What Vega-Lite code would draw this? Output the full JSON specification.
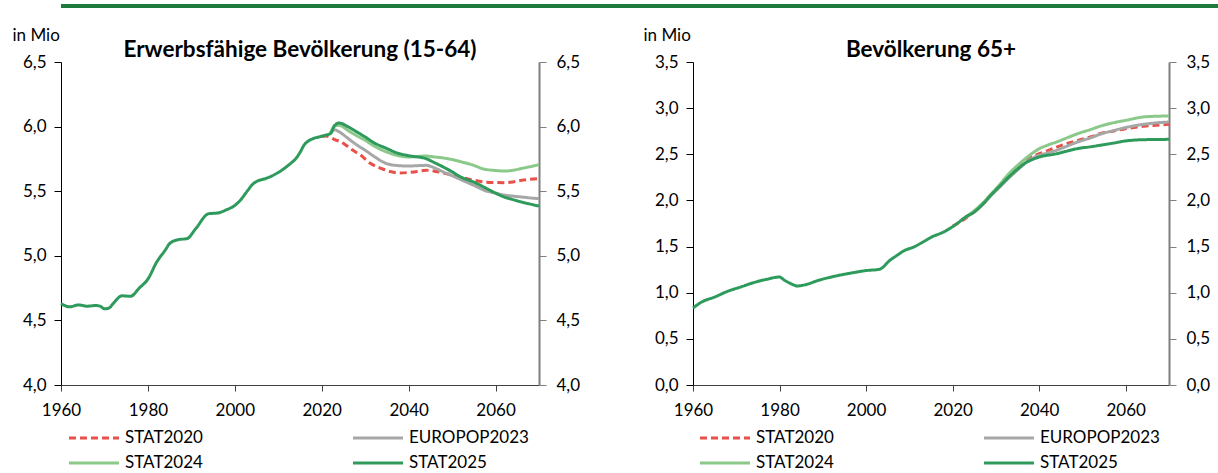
{
"$schema": "https://vega.github.io/schema/vega-lite/v6.json",
"padding": {"left": 12, "top": 3, "right": 0, "bottom": 0},
"config": {
 "font": "Lato",
 "view": {"stroke": null},
 "axis": {"labelFontSize": 17, "labelColor": "#000", "titleFontSize": 17, "titleFontWeight": "normal", "titleColor": "#000", "grid": false, "tickColor": "#404040", "domainColor": "#404040", "labelFont": "Lato", "titleFont": "Lato", "labelFlush": false},
 "legend": {"symbolType": "M-2,0L2,0", "symbolSize": 625, "symbolStrokeWidth": 3, "labelFontSize": 17, "labelFont": "Lato", "labelColor": "#000", "labelOffset": 17, "columnPadding": 144, "rowPadding": 3},
 "title": {"fontSize": 22.5, "fontWeight": "bold", "color": "#000", "font": "Lato"}
},
"datasets": {
 "erw": [
  {"series": "STAT2020", "year": 2020, "value": 5.925},
  {"series": "STAT2020", "year": 2021, "value": 5.927},
  {"series": "STAT2020", "year": 2023, "value": 5.9},
  {"series": "STAT2020", "year": 2025, "value": 5.87},
  {"series": "STAT2020", "year": 2027, "value": 5.82},
  {"series": "STAT2020", "year": 2029, "value": 5.778},
  {"series": "STAT2020", "year": 2031, "value": 5.72},
  {"series": "STAT2020", "year": 2034, "value": 5.672},
  {"series": "STAT2020", "year": 2036, "value": 5.65},
  {"series": "STAT2020", "year": 2038, "value": 5.641},
  {"series": "STAT2020", "year": 2040, "value": 5.645},
  {"series": "STAT2020", "year": 2042, "value": 5.652},
  {"series": "STAT2020", "year": 2044, "value": 5.662},
  {"series": "STAT2020", "year": 2046, "value": 5.655},
  {"series": "STAT2020", "year": 2048, "value": 5.641},
  {"series": "STAT2020", "year": 2050, "value": 5.625},
  {"series": "STAT2020", "year": 2052, "value": 5.607},
  {"series": "STAT2020", "year": 2055, "value": 5.585},
  {"series": "STAT2020", "year": 2058, "value": 5.57},
  {"series": "STAT2020", "year": 2060, "value": 5.567},
  {"series": "STAT2020", "year": 2062, "value": 5.566},
  {"series": "STAT2020", "year": 2064, "value": 5.572},
  {"series": "STAT2020", "year": 2066, "value": 5.584},
  {"series": "STAT2020", "year": 2068, "value": 5.592},
  {"series": "STAT2020", "year": 2070, "value": 5.597},
  {"series": "EUROPOP2023", "year": 2022, "value": 5.95},
  {"series": "EUROPOP2023", "year": 2023, "value": 5.975},
  {"series": "EUROPOP2023", "year": 2024, "value": 5.96},
  {"series": "EUROPOP2023", "year": 2026, "value": 5.91},
  {"series": "EUROPOP2023", "year": 2028, "value": 5.86},
  {"series": "EUROPOP2023", "year": 2030, "value": 5.817},
  {"series": "EUROPOP2023", "year": 2032, "value": 5.77},
  {"series": "EUROPOP2023", "year": 2035, "value": 5.713},
  {"series": "EUROPOP2023", "year": 2037, "value": 5.7},
  {"series": "EUROPOP2023", "year": 2040, "value": 5.695},
  {"series": "EUROPOP2023", "year": 2044, "value": 5.7},
  {"series": "EUROPOP2023", "year": 2046, "value": 5.68},
  {"series": "EUROPOP2023", "year": 2048, "value": 5.649},
  {"series": "EUROPOP2023", "year": 2050, "value": 5.62},
  {"series": "EUROPOP2023", "year": 2052, "value": 5.59},
  {"series": "EUROPOP2023", "year": 2055, "value": 5.545},
  {"series": "EUROPOP2023", "year": 2058, "value": 5.5},
  {"series": "EUROPOP2023", "year": 2060, "value": 5.485},
  {"series": "EUROPOP2023", "year": 2062, "value": 5.47},
  {"series": "EUROPOP2023", "year": 2064, "value": 5.462},
  {"series": "EUROPOP2023", "year": 2066, "value": 5.455},
  {"series": "EUROPOP2023", "year": 2068, "value": 5.448},
  {"series": "EUROPOP2023", "year": 2070, "value": 5.442},
  {"series": "STAT2024", "year": 2022, "value": 5.95},
  {"series": "STAT2024", "year": 2023, "value": 6.005},
  {"series": "STAT2024", "year": 2024, "value": 6.01},
  {"series": "STAT2024", "year": 2026, "value": 5.971},
  {"series": "STAT2024", "year": 2028, "value": 5.93},
  {"series": "STAT2024", "year": 2030, "value": 5.894},
  {"series": "STAT2024", "year": 2032, "value": 5.85},
  {"series": "STAT2024", "year": 2035, "value": 5.803},
  {"series": "STAT2024", "year": 2037, "value": 5.78},
  {"series": "STAT2024", "year": 2040, "value": 5.765},
  {"series": "STAT2024", "year": 2044, "value": 5.772},
  {"series": "STAT2024", "year": 2046, "value": 5.765},
  {"series": "STAT2024", "year": 2048, "value": 5.757},
  {"series": "STAT2024", "year": 2050, "value": 5.745},
  {"series": "STAT2024", "year": 2052, "value": 5.728},
  {"series": "STAT2024", "year": 2055, "value": 5.7},
  {"series": "STAT2024", "year": 2057, "value": 5.674},
  {"series": "STAT2024", "year": 2060, "value": 5.66},
  {"series": "STAT2024", "year": 2062, "value": 5.656},
  {"series": "STAT2024", "year": 2064, "value": 5.662},
  {"series": "STAT2024", "year": 2066, "value": 5.676},
  {"series": "STAT2024", "year": 2068, "value": 5.69},
  {"series": "STAT2024", "year": 2070, "value": 5.705},
  {"series": "STAT2025", "year": 1960, "value": 4.63},
  {"series": "STAT2025", "year": 1962, "value": 4.605},
  {"series": "STAT2025", "year": 1964, "value": 4.62},
  {"series": "STAT2025", "year": 1966, "value": 4.61},
  {"series": "STAT2025", "year": 1968, "value": 4.615},
  {"series": "STAT2025", "year": 1969, "value": 4.61},
  {"series": "STAT2025", "year": 1970, "value": 4.59},
  {"series": "STAT2025", "year": 1971, "value": 4.595},
  {"series": "STAT2025", "year": 1972, "value": 4.63},
  {"series": "STAT2025", "year": 1974, "value": 4.69},
  {"series": "STAT2025", "year": 1976, "value": 4.687},
  {"series": "STAT2025", "year": 1978, "value": 4.75},
  {"series": "STAT2025", "year": 1980, "value": 4.82},
  {"series": "STAT2025", "year": 1982, "value": 4.95},
  {"series": "STAT2025", "year": 1984, "value": 5.045},
  {"series": "STAT2025", "year": 1985, "value": 5.095},
  {"series": "STAT2025", "year": 1987, "value": 5.125},
  {"series": "STAT2025", "year": 1989, "value": 5.133},
  {"series": "STAT2025", "year": 1991, "value": 5.21},
  {"series": "STAT2025", "year": 1994, "value": 5.326},
  {"series": "STAT2025", "year": 1996, "value": 5.331},
  {"series": "STAT2025", "year": 1998, "value": 5.355},
  {"series": "STAT2025", "year": 2000, "value": 5.39},
  {"series": "STAT2025", "year": 2001, "value": 5.42},
  {"series": "STAT2025", "year": 2003, "value": 5.507},
  {"series": "STAT2025", "year": 2004, "value": 5.55},
  {"series": "STAT2025", "year": 2005, "value": 5.575},
  {"series": "STAT2025", "year": 2007, "value": 5.597},
  {"series": "STAT2025", "year": 2008, "value": 5.61},
  {"series": "STAT2025", "year": 2010, "value": 5.645},
  {"series": "STAT2025", "year": 2013, "value": 5.72},
  {"series": "STAT2025", "year": 2014, "value": 5.75},
  {"series": "STAT2025", "year": 2015, "value": 5.8},
  {"series": "STAT2025", "year": 2016, "value": 5.86},
  {"series": "STAT2025", "year": 2017, "value": 5.89},
  {"series": "STAT2025", "year": 2018, "value": 5.907},
  {"series": "STAT2025", "year": 2020, "value": 5.925},
  {"series": "STAT2025", "year": 2021, "value": 5.935},
  {"series": "STAT2025", "year": 2022, "value": 5.945},
  {"series": "STAT2025", "year": 2023, "value": 6.01},
  {"series": "STAT2025", "year": 2024, "value": 6.028},
  {"series": "STAT2025", "year": 2026, "value": 6.0},
  {"series": "STAT2025", "year": 2028, "value": 5.96},
  {"series": "STAT2025", "year": 2030, "value": 5.92},
  {"series": "STAT2025", "year": 2032, "value": 5.875},
  {"series": "STAT2025", "year": 2035, "value": 5.83},
  {"series": "STAT2025", "year": 2037, "value": 5.8},
  {"series": "STAT2025", "year": 2040, "value": 5.775},
  {"series": "STAT2025", "year": 2044, "value": 5.752},
  {"series": "STAT2025", "year": 2046, "value": 5.72},
  {"series": "STAT2025", "year": 2048, "value": 5.687},
  {"series": "STAT2025", "year": 2050, "value": 5.65},
  {"series": "STAT2025", "year": 2052, "value": 5.61},
  {"series": "STAT2025", "year": 2055, "value": 5.57},
  {"series": "STAT2025", "year": 2058, "value": 5.52},
  {"series": "STAT2025", "year": 2060, "value": 5.485},
  {"series": "STAT2025", "year": 2062, "value": 5.455},
  {"series": "STAT2025", "year": 2064, "value": 5.435},
  {"series": "STAT2025", "year": 2066, "value": 5.416},
  {"series": "STAT2025", "year": 2068, "value": 5.4},
  {"series": "STAT2025", "year": 2070, "value": 5.385}
 ],
 "alt": [
  {"series": "STAT2020", "year": 2020, "value": 1.72},
  {"series": "STAT2020", "year": 2022, "value": 1.775},
  {"series": "STAT2020", "year": 2025, "value": 1.88},
  {"series": "STAT2020", "year": 2027, "value": 1.965},
  {"series": "STAT2020", "year": 2029, "value": 2.065},
  {"series": "STAT2020", "year": 2031, "value": 2.16},
  {"series": "STAT2020", "year": 2033, "value": 2.25},
  {"series": "STAT2020", "year": 2035, "value": 2.34},
  {"series": "STAT2020", "year": 2037, "value": 2.434},
  {"series": "STAT2020", "year": 2040, "value": 2.506},
  {"series": "STAT2020", "year": 2042, "value": 2.54},
  {"series": "STAT2020", "year": 2044, "value": 2.578},
  {"series": "STAT2020", "year": 2046, "value": 2.61},
  {"series": "STAT2020", "year": 2049, "value": 2.651},
  {"series": "STAT2020", "year": 2052, "value": 2.69},
  {"series": "STAT2020", "year": 2054, "value": 2.723},
  {"series": "STAT2020", "year": 2057, "value": 2.75},
  {"series": "STAT2020", "year": 2060, "value": 2.777},
  {"series": "STAT2020", "year": 2064, "value": 2.803},
  {"series": "STAT2020", "year": 2067, "value": 2.815},
  {"series": "STAT2020", "year": 2070, "value": 2.825},
  {"series": "EUROPOP2023", "year": 2022, "value": 1.79},
  {"series": "EUROPOP2023", "year": 2025, "value": 1.88},
  {"series": "EUROPOP2023", "year": 2027, "value": 1.96},
  {"series": "EUROPOP2023", "year": 2029, "value": 2.06},
  {"series": "EUROPOP2023", "year": 2031, "value": 2.15},
  {"series": "EUROPOP2023", "year": 2033, "value": 2.245},
  {"series": "EUROPOP2023", "year": 2035, "value": 2.33},
  {"series": "EUROPOP2023", "year": 2037, "value": 2.415},
  {"series": "EUROPOP2023", "year": 2040, "value": 2.489},
  {"series": "EUROPOP2023", "year": 2042, "value": 2.515},
  {"series": "EUROPOP2023", "year": 2044, "value": 2.543},
  {"series": "EUROPOP2023", "year": 2046, "value": 2.58},
  {"series": "EUROPOP2023", "year": 2049, "value": 2.635},
  {"series": "EUROPOP2023", "year": 2052, "value": 2.68},
  {"series": "EUROPOP2023", "year": 2054, "value": 2.716},
  {"series": "EUROPOP2023", "year": 2057, "value": 2.755},
  {"series": "EUROPOP2023", "year": 2060, "value": 2.79},
  {"series": "EUROPOP2023", "year": 2064, "value": 2.824},
  {"series": "EUROPOP2023", "year": 2067, "value": 2.84},
  {"series": "EUROPOP2023", "year": 2070, "value": 2.85},
  {"series": "STAT2024", "year": 2023, "value": 1.82},
  {"series": "STAT2024", "year": 2025, "value": 1.89},
  {"series": "STAT2024", "year": 2027, "value": 1.975},
  {"series": "STAT2024", "year": 2029, "value": 2.075},
  {"series": "STAT2024", "year": 2031, "value": 2.18},
  {"series": "STAT2024", "year": 2033, "value": 2.29},
  {"series": "STAT2024", "year": 2035, "value": 2.38},
  {"series": "STAT2024", "year": 2037, "value": 2.46},
  {"series": "STAT2024", "year": 2040, "value": 2.56},
  {"series": "STAT2024", "year": 2042, "value": 2.6},
  {"series": "STAT2024", "year": 2044, "value": 2.633},
  {"series": "STAT2024", "year": 2046, "value": 2.67},
  {"series": "STAT2024", "year": 2049, "value": 2.725},
  {"series": "STAT2024", "year": 2052, "value": 2.77},
  {"series": "STAT2024", "year": 2054, "value": 2.803},
  {"series": "STAT2024", "year": 2057, "value": 2.84},
  {"series": "STAT2024", "year": 2060, "value": 2.868},
  {"series": "STAT2024", "year": 2064, "value": 2.904},
  {"series": "STAT2024", "year": 2067, "value": 2.912},
  {"series": "STAT2024", "year": 2070, "value": 2.915},
  {"series": "STAT2025", "year": 1960, "value": 0.834},
  {"series": "STAT2025", "year": 1962, "value": 0.899},
  {"series": "STAT2025", "year": 1965, "value": 0.953},
  {"series": "STAT2025", "year": 1968, "value": 1.015},
  {"series": "STAT2025", "year": 1971, "value": 1.062},
  {"series": "STAT2025", "year": 1974, "value": 1.109},
  {"series": "STAT2025", "year": 1977, "value": 1.145},
  {"series": "STAT2025", "year": 1980, "value": 1.17},
  {"series": "STAT2025", "year": 1981, "value": 1.14},
  {"series": "STAT2025", "year": 1983, "value": 1.09},
  {"series": "STAT2025", "year": 1984, "value": 1.073},
  {"series": "STAT2025", "year": 1986, "value": 1.087},
  {"series": "STAT2025", "year": 1989, "value": 1.134},
  {"series": "STAT2025", "year": 1993, "value": 1.181},
  {"series": "STAT2025", "year": 1997, "value": 1.217},
  {"series": "STAT2025", "year": 2000, "value": 1.24},
  {"series": "STAT2025", "year": 2003, "value": 1.253},
  {"series": "STAT2025", "year": 2004, "value": 1.28},
  {"series": "STAT2025", "year": 2005, "value": 1.33},
  {"series": "STAT2025", "year": 2007, "value": 1.4},
  {"series": "STAT2025", "year": 2009, "value": 1.46},
  {"series": "STAT2025", "year": 2011, "value": 1.495},
  {"series": "STAT2025", "year": 2013, "value": 1.545},
  {"series": "STAT2025", "year": 2015, "value": 1.6},
  {"series": "STAT2025", "year": 2018, "value": 1.66},
  {"series": "STAT2025", "year": 2021, "value": 1.748},
  {"series": "STAT2025", "year": 2023, "value": 1.82},
  {"series": "STAT2025", "year": 2025, "value": 1.874},
  {"series": "STAT2025", "year": 2027, "value": 1.96},
  {"series": "STAT2025", "year": 2029, "value": 2.065},
  {"series": "STAT2025", "year": 2031, "value": 2.16},
  {"series": "STAT2025", "year": 2033, "value": 2.255},
  {"series": "STAT2025", "year": 2035, "value": 2.34},
  {"series": "STAT2025", "year": 2037, "value": 2.41},
  {"series": "STAT2025", "year": 2040, "value": 2.47},
  {"series": "STAT2025", "year": 2044, "value": 2.506},
  {"series": "STAT2025", "year": 2046, "value": 2.53},
  {"series": "STAT2025", "year": 2049, "value": 2.563},
  {"series": "STAT2025", "year": 2052, "value": 2.582},
  {"series": "STAT2025", "year": 2054, "value": 2.597},
  {"series": "STAT2025", "year": 2057, "value": 2.62},
  {"series": "STAT2025", "year": 2060, "value": 2.645},
  {"series": "STAT2025", "year": 2064, "value": 2.658},
  {"series": "STAT2025", "year": 2067, "value": 2.66},
  {"series": "STAT2025", "year": 2070, "value": 2.662}
 ],
 "bar": [{"k": 1}]
},
"vconcat": [
 {
  "width": 1206, "height": 4,
  "view": {"fill": "#1E7B3C", "stroke": null},
  "data": {"name": "bar"},
  "mark": {"type": "point", "opacity": 0},
  "encoding": {}
 },
 {
  "hconcat": [
   {
    "width": 478, "height": 323,
    "data": {"name": "erw"},
    "title": {"text": "Erwerbsfähige Bevölkerung (15-64)", "frame": "group", "offset": -35},
    "layer": [
     {
      "mark": {"type": "line", "strokeWidth": 3, "interpolate": "monotone"},
      "encoding": {
       "x": {"field": "year", "type": "quantitative", "scale": {"domain": [1960, 2070], "nice": false, "zero": false},
             "axis": {"values": [1960, 1980, 2000, 2020, 2040, 2060], "format": "d", "title": null, "tickSize": 6, "labelPadding": 11}},
       "y": {"field": "value", "type": "quantitative", "scale": {"domain": [4, 6.5], "nice": false, "zero": false},
             "axis": {"orient": "left", "values": [4, 4.5, 5, 5.5, 6, 6.5], "labelExpr": "replace(format(datum.value, '.1f'), '.', ',')",
                      "tickSize": 7, "labelPadding": 8, "domainColor": "#000", "tickColor": "#000",
                      "title": "in Mio", "titleAngle": 0, "titleAlign": "left", "titleBaseline": "alphabetic", "titleX": -49, "titleY": -22}},
       "color": {"field": "series", "type": "nominal", "title": null,
                 "scale": {"domain": ["STAT2020", "EUROPOP2023", "STAT2024", "STAT2025"], "range": ["#E8504A", "#A5A8A6", "#8BC98A", "#2E9A5C"]},
                 "legend": {"orient": "none", "legendX": 19, "legendY": 362, "direction": "horizontal", "columns": 2, "title": null}},
       "strokeDash": {"field": "series", "type": "nominal", "title": null,
                 "scale": {"domain": ["STAT2020", "EUROPOP2023", "STAT2024", "STAT2025"], "range": [[7, 4], [1, 0], [1, 0], [1, 0]]},
                 "legend": {"orient": "none", "legendX": 19, "legendY": 362, "direction": "horizontal", "columns": 2, "title": null}}
      }
     },
     {
      "mark": {"type": "line", "opacity": 0},
      "encoding": {
       "x": {"field": "year", "type": "quantitative", "scale": {"domain": [1960, 2070], "nice": false, "zero": false}},
       "y": {"field": "value", "type": "quantitative", "scale": {"domain": [4, 6.5], "nice": false, "zero": false},
             "axis": {"orient": "right", "values": [4, 4.5, 5, 5.5, 6, 6.5], "labelExpr": "replace(format(datum.value, '.1f'), '.', ',')",
                      "tickSize": 7, "labelPadding": 10, "domainColor": "#7F7F7F", "tickColor": "#7F7F7F", "domainWidth": 2, "title": null}},
       "detail": {"field": "series"}
      }
     }
    ],
    "resolve": {"scale": {"y": "independent"}}
   },
   {
    "width": 476, "height": 323,
    "data": {"name": "alt"},
    "title": {"text": "Bevölkerung 65+", "frame": "group", "offset": -35},
    "layer": [
     {
      "mark": {"type": "line", "strokeWidth": 3, "interpolate": "monotone"},
      "encoding": {
       "x": {"field": "year", "type": "quantitative", "scale": {"domain": [1960, 2070], "nice": false, "zero": false},
             "axis": {"values": [1960, 1980, 2000, 2020, 2040, 2060], "format": "d", "title": null, "tickSize": 6, "labelPadding": 11}},
       "y": {"field": "value", "type": "quantitative", "scale": {"domain": [0, 3.5], "nice": false, "zero": false},
             "axis": {"orient": "left", "values": [0, 0.5, 1, 1.5, 2, 2.5, 3, 3.5], "labelExpr": "replace(format(datum.value, '.1f'), '.', ',')",
                      "tickSize": 7, "labelPadding": 8, "domainColor": "#000", "tickColor": "#000",
                      "title": "in Mio", "titleAngle": 0, "titleAlign": "left", "titleBaseline": "alphabetic", "titleX": -50, "titleY": -22}},
       "color": {"field": "series", "type": "nominal", "title": null,
                 "scale": {"domain": ["STAT2020", "EUROPOP2023", "STAT2024", "STAT2025"], "range": ["#E8504A", "#A5A8A6", "#8BC98A", "#2E9A5C"]},
                 "legend": {"orient": "none", "legendX": 18, "legendY": 362, "direction": "horizontal", "columns": 2, "title": null}},
       "strokeDash": {"field": "series", "type": "nominal", "title": null,
                 "scale": {"domain": ["STAT2020", "EUROPOP2023", "STAT2024", "STAT2025"], "range": [[7, 4], [1, 0], [1, 0], [1, 0]]},
                 "legend": {"orient": "none", "legendX": 18, "legendY": 362, "direction": "horizontal", "columns": 2, "title": null}}
      }
     },
     {
      "mark": {"type": "line", "opacity": 0},
      "encoding": {
       "x": {"field": "year", "type": "quantitative", "scale": {"domain": [1960, 2070], "nice": false, "zero": false}},
       "y": {"field": "value", "type": "quantitative", "scale": {"domain": [0, 3.5], "nice": false, "zero": false},
             "axis": {"orient": "right", "values": [0, 0.5, 1, 1.5, 2, 2.5, 3, 3.5], "labelExpr": "replace(format(datum.value, '.1f'), '.', ',')",
                      "tickSize": 7, "labelPadding": 10, "domainColor": "#7F7F7F", "tickColor": "#7F7F7F", "domainWidth": 2, "title": null}},
       "detail": {"field": "series"}
      }
     }
    ],
    "resolve": {"scale": {"y": "independent"}}
   }
  ],
  "spacing": 63,
  "resolve": {"scale": {"color": "independent", "strokeDash": "independent"}}
 }
],
"spacing": 17
}
